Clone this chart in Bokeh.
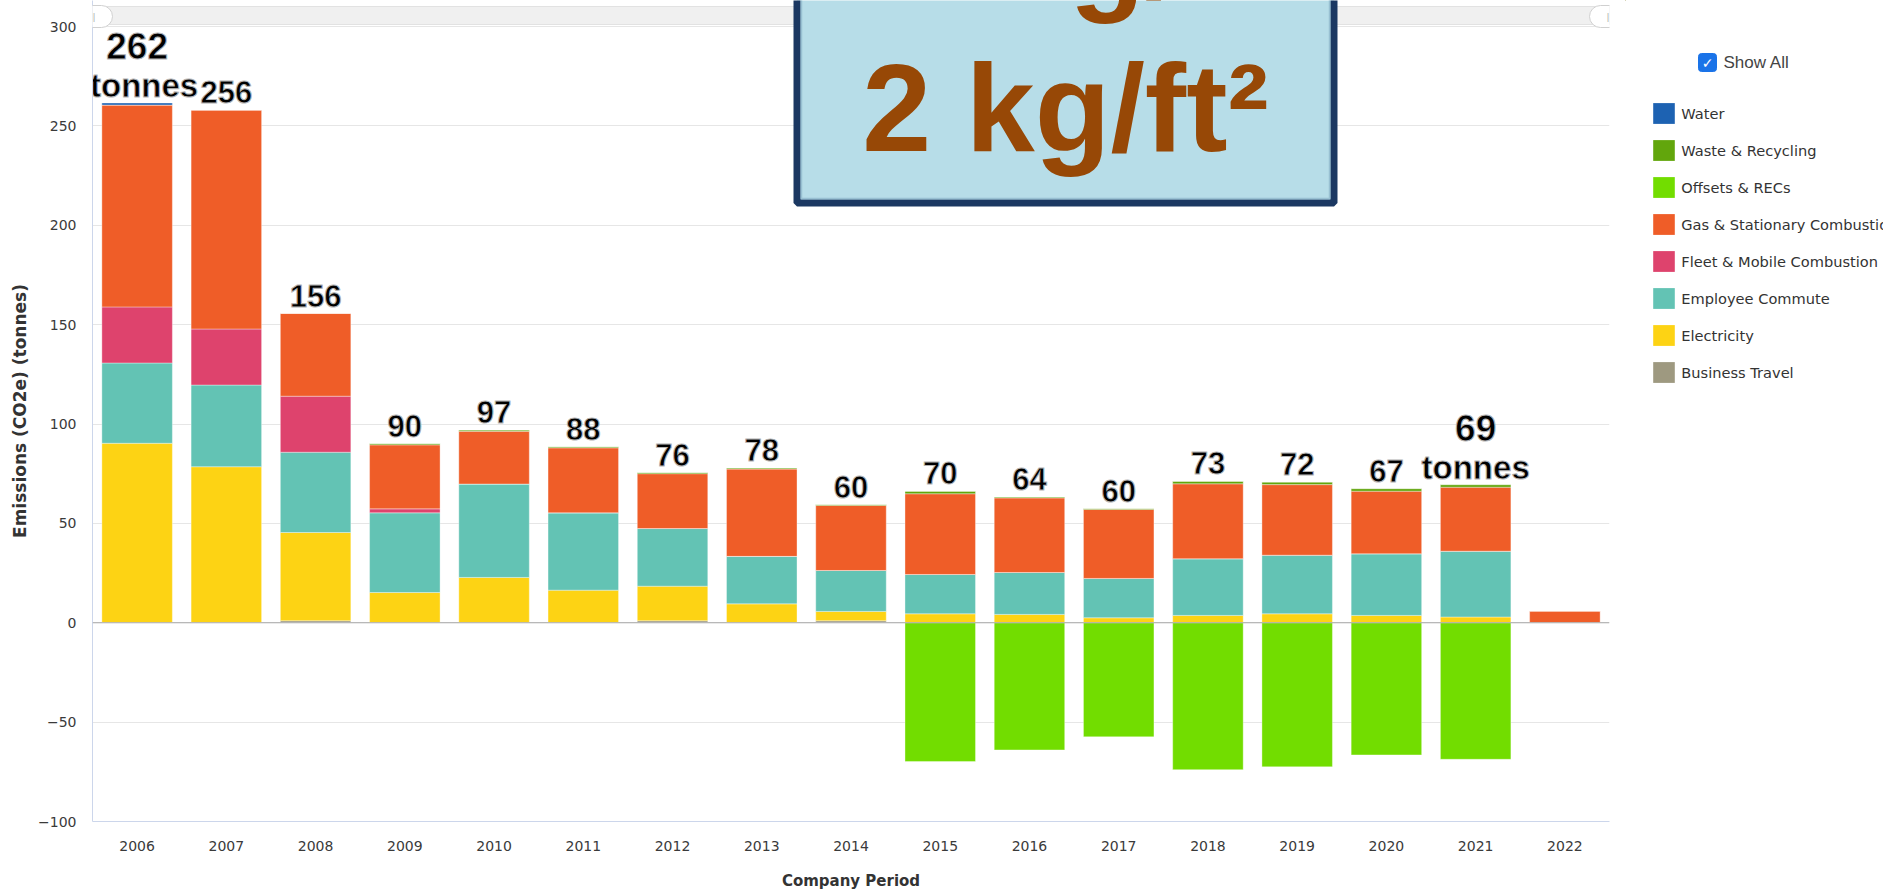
from bokeh.plotting import figure
from bokeh.layouts import row
from bokeh.models import (ColumnDataSource, FactorRange, Range1d, Legend, LegendItem,
                          BoxAnnotation, Label, Span, FixedTicker)
from bokeh.core.properties import value
from bokeh.embed import file_html
from bokeh.resources import INLINE

# ---------------- data ----------------
years = [str(y) for y in range(2006, 2023)]
business_travel = [0, 0, 1.0, 0, 0, 0, 1.0, 0, 1.0, 0, 0, 0, 0, 0, 0, 0, 0]
electricity = [90.3, 78.5, 44.4, 15.2, 22.8, 16.4, 17.4, 9.5, 4.7, 4.5, 4.2, 2.5, 3.7, 4.5, 3.7, 2.9, 0]
employee_commute = [40.4, 41.1, 40.4, 40.1, 47.0, 38.9, 29.0, 23.9, 20.6, 19.8, 21.1, 19.8, 28.5, 29.5, 31.0, 33.1, 0]
fleet_mobile = [28.2, 28.2, 28.2, 2.0, 0, 0, 0, 0, 0, 0, 0, 0, 0, 0, 0, 0, 0]
gas_stationary = [101.6, 110.2, 41.7, 32.2, 26.5, 32.7, 27.6, 43.9, 32.7, 40.6, 37.5, 34.7, 37.7, 35.5, 31.5, 32.2, 5.9]
waste_recycling = [0, 0, 0, 0.7, 0.7, 0.6, 0.6, 0.6, 0.5, 1.3, 0.5, 0.5, 1.3, 1.3, 1.3, 1.3, 0]
water = [1.0, 0, 0, 0, 0, 0, 0, 0, 0, 0, 0, 0, 0, 0, 0, 0, 0]
offsets_recs = [0, 0, 0, 0, 0, 0, 0, 0, 0, -69.8, -64.0, -57.4, -73.9, -72.5, -66.5, -68.7, 0]

total_labels = [262, 256, 156, 90, 97, 88, 76, 78, 60, 70, 64, 60, 73, 72, 67, 69, None]
unit_label_years = ["2006", "2021"]
unit_text = "tonnes"

y_ticks = [-100, -50, 0, 50, 100, 150, 200, 250, 300]

series_names = ["Water", "Waste & Recycling", "Offsets & RECs", "Gas & Stationary Combustion",
                "Fleet & Mobile Combustion", "Employee Commute", "Electricity", "Business Travel"]
series_colors = ["#1d62b2", "#62a60c", "#72dd00", "#ef5d28", "#de436d", "#63c3b4", "#fdd314", "#9e9980"]

box_lines = ["20 kg/ft\u00b2", "2 kg/ft\u00b2"]

# ---------------- geometry (page pixels, canvas starts at 0,0) ----------------
TOTAL_W, H = 1883, 894
FRAME_L, FRAME_R, FRAME_B = 92, 1609, 821
MAIN_W = 1625
LEG_W = TOTAL_W - MAIN_W
PPU = 1.9875
Y_MIN = -100
Y_MAX = Y_MIN + FRAME_B / PPU
PX_PER_CAT = (FRAME_R - FRAME_L) / len(years)
MID = 0.347  # offset of the em-box middle above the baseline, in em


def xd(px):
    return (px - FRAME_L) / PX_PER_CAT


def yd(py):
    return Y_MAX - py / PPU


p = figure(width=MAIN_W, height=H, x_range=FactorRange(*years), y_range=Range1d(Y_MIN, Y_MAX),
           output_backend="svg", toolbar_location=None,
           min_border_left=FRAME_L, min_border_right=MAIN_W - FRAME_R,
           min_border_top=0, min_border_bottom=H - FRAME_B,
           outline_line_color=None, background_fill_color="white")

p.xgrid.visible = False
p.ygrid.grid_line_color = "#e6e6e6"
p.ygrid.grid_line_width = 1

# axes
p.yaxis.ticker = FixedTicker(ticks=y_ticks)
p.yaxis.axis_line_color = "#ccd6eb"
p.yaxis.major_tick_line_color = None
p.yaxis.minor_tick_line_color = None
p.yaxis.major_tick_out = 0
p.yaxis.major_tick_in = 0
p.yaxis.major_label_standoff = 16
p.yaxis.major_label_text_font = "DejaVu Sans"
p.yaxis.major_label_text_font_size = "14px"
p.yaxis.major_label_text_color = "#3a3a3a"
p.yaxis.axis_label = "Emissions (CO2e) (tonnes)"
p.yaxis.axis_label_text_font = "DejaVu Sans"
p.yaxis.axis_label_text_font_style = "bold"
p.yaxis.axis_label_text_font_size = "17px"
p.yaxis.axis_label_text_color = "#333333"
p.yaxis.axis_label_standoff = 5

p.xaxis.axis_line_color = "#ccd6eb"
p.xaxis.major_tick_line_color = None
p.xaxis.minor_tick_line_color = None
p.xaxis.major_tick_out = 0
p.xaxis.major_tick_in = 0
p.xaxis.major_label_standoff = 19
p.xaxis.major_label_text_font = "DejaVu Sans"
p.xaxis.major_label_text_font_size = "14px"
p.xaxis.major_label_text_color = "#3a3a3a"
p.xaxis.axis_label = "Company Period"
p.xaxis.axis_label_text_font = "DejaVu Sans"
p.xaxis.axis_label_text_font_style = "bold"
p.xaxis.axis_label_text_font_size = "15px"
p.xaxis.axis_label_text_color = "#333333"
p.xaxis.axis_label_standoff = 18

# ---------------- bars ----------------
src = ColumnDataSource(dict(year=years, bt=business_travel, elec=electricity, commute=employee_commute,
                            fleet=fleet_mobile, gas=gas_stationary, waste=waste_recycling,
                            water=water, offsets=offsets_recs))
cmap = dict(zip(series_names, series_colors))
stack_keys = ["bt", "elec", "commute", "fleet", "gas", "waste", "water"]
stack_names = ["Business Travel", "Electricity", "Employee Commute", "Fleet & Mobile Combustion",
               "Gas & Stationary Combustion", "Waste & Recycling", "Water"]
BAR_W = 0.79
p.vbar_stack(stack_keys, x="year", width=BAR_W, source=src,
             fill_color=[cmap[n] for n in stack_names],
             line_color="white", line_width=0.6, line_alpha=0.6)
p.vbar(x="year", top="offsets", bottom=0, width=BAR_W, source=src,
       fill_color=cmap["Offsets & RECs"], line_color="white", line_width=0.6, line_alpha=0.6)

p.add_layout(Span(location=0, dimension="width", line_color="#a8a8a8", line_width=1))

# ---------------- total labels ----------------
pos_top = [sum(v) for v in zip(business_travel, electricity, employee_commute, fleet_mobile,
                               gas_stationary, waste_recycling, water)]
norm_x, norm_y, norm_t, big_x, big_y, big_t = [], [], [], [], [], []
for yr, top, lab in zip(years, pos_top, total_labels):
    if lab is None:
        continue
    if yr in unit_label_years:
        big_x.append(yr); big_y.append(top); big_t.append(str(lab))
    else:
        norm_x.append(yr); norm_y.append(top); norm_t.append(str(lab))

# keep the first "tonnes" clear of the frame's left edge
unit_dx = [7 if yr == years[0] else 0 for yr in big_x]

lab_common = dict(text_font=value("Liberation Sans"), text_font_style="bold", text_align="center",
                  text_baseline="middle", text_color="#000000", text_outline_color="#b4b4b4")
p.text(x=norm_x, y=norm_y, text=norm_t, y_offset=-(7 + MID * 31), text_font_size="31px", **lab_common)
unit_src = ColumnDataSource(dict(x=big_x, y=big_y, t=[unit_text] * len(big_x), dx=unit_dx))
p.text(x="x", y="y", text="t", x_offset="dx", y_offset=-(6 + MID * 33), source=unit_src,
       text_font_size="33px", **lab_common)
p.text(x=big_x, y=big_y, text=big_t, y_offset=-(44 + MID * 37), text_font_size="37px", **lab_common)

# ---------------- scrollbar strip ----------------
p.add_layout(BoxAnnotation(bottom=yd(24), top=yd(6), fill_color="#f0f0f0", fill_alpha=1,
                           line_color="#e2e2e2", line_alpha=1, line_width=1))
for cx in (FRAME_L, FRAME_R):
    p.add_layout(BoxAnnotation(left=xd(cx - 20), right=xd(cx + 20), bottom=yd(27), top=yd(5),
                               fill_color="white", fill_alpha=1, line_color="#d0d0d0", line_alpha=1,
                               line_width=1, border_radius=11))
    p.add_layout(Label(x=xd(cx), y=yd(16), text="||", text_font="DejaVu Sans", text_font_size="9px",
                       text_color="#aaaaaa", text_align="center", text_baseline="middle"))

# ---------------- highlighted box ----------------
p.add_layout(BoxAnnotation(left=xd(796.5), right=xd(1333.5), bottom=yd(202.5), top=yd(-30),
                           fill_color="#b7dde8", fill_alpha=1, line_color="#1b3862", line_alpha=1,
                           line_width=7))
p.add_layout(BoxAnnotation(left=xd(801), right=xd(1329), bottom=yd(198), top=yd(-30),
                           fill_alpha=0, line_color="#98c0d2", line_alpha=1, line_width=1.5))
BOX_FS = 124
p.text(x=[xd(1065), xd(1065)], y=[yd(-2.7 - MID * BOX_FS), yd(150.8 - MID * BOX_FS)], text=box_lines,
       text_font=value("Liberation Sans"), text_font_style="bold", text_font_size=f"{BOX_FS}px",
       text_align="center", text_baseline="middle", text_color="#974806", level="overlay")

# ---------------- legend panel (second figure; its frame is aligned with the main frame) ----------------
pl = figure(width=LEG_W, height=H, x_range=Range1d(0, LEG_W), y_range=Range1d(FRAME_B, 0),
            output_backend="svg", toolbar_location=None, min_border=0,
            x_axis_location=None, y_axis_location=None, outline_line_color=None)
pl.xgrid.visible = False
pl.ygrid.visible = False

items = []
for n in series_names:
    # legend proxy, placed outside the visible range of the legend panel
    proxy = pl.vbar(x=[-100], top=[-100], bottom=[-101], width=1, fill_color=cmap[n], line_color=None)
    items.append(LegendItem(label=n, renderers=[proxy]))
GW, GH, SP = 27, 26, 11
LEG_TOP = 100.4
leg_h = 8 * GH + 7 * SP
legend = Legend(items=items, location=(1650.3 - MAIN_W, FRAME_B - (LEG_TOP + leg_h)),
                orientation="vertical", padding=0, margin=0, spacing=SP,
                glyph_width=GW, glyph_height=GH, label_height=GH, label_standoff=4,
                label_text_font="DejaVu Sans", label_text_font_size="14.6px",
                label_text_color="#333333", border_line_color=None, background_fill_alpha=0)
pl.add_layout(legend)

pl.add_layout(BoxAnnotation(left=1698 - MAIN_W, right=1716 - MAIN_W, top=53, bottom=71,
                            fill_color="#1a73e8", fill_alpha=1, line_color="#1a73e8", line_alpha=1,
                            border_radius=3))
pl.add_layout(Label(x=1707 - MAIN_W, y=62, text="\u2713", text_font="DejaVu Sans", text_font_size="14px",
                    text_font_style="bold", text_color="white", text_align="center", text_baseline="middle"))
pl.add_layout(Label(x=1723 - MAIN_W, y=62, text="Show All", text_font="Liberation Sans",
                    text_font_size="17px", text_color="#444444", text_align="left", text_baseline="middle"))

layout = row(p, pl)
open("out.html", "w").write(file_html(layout, INLINE))
